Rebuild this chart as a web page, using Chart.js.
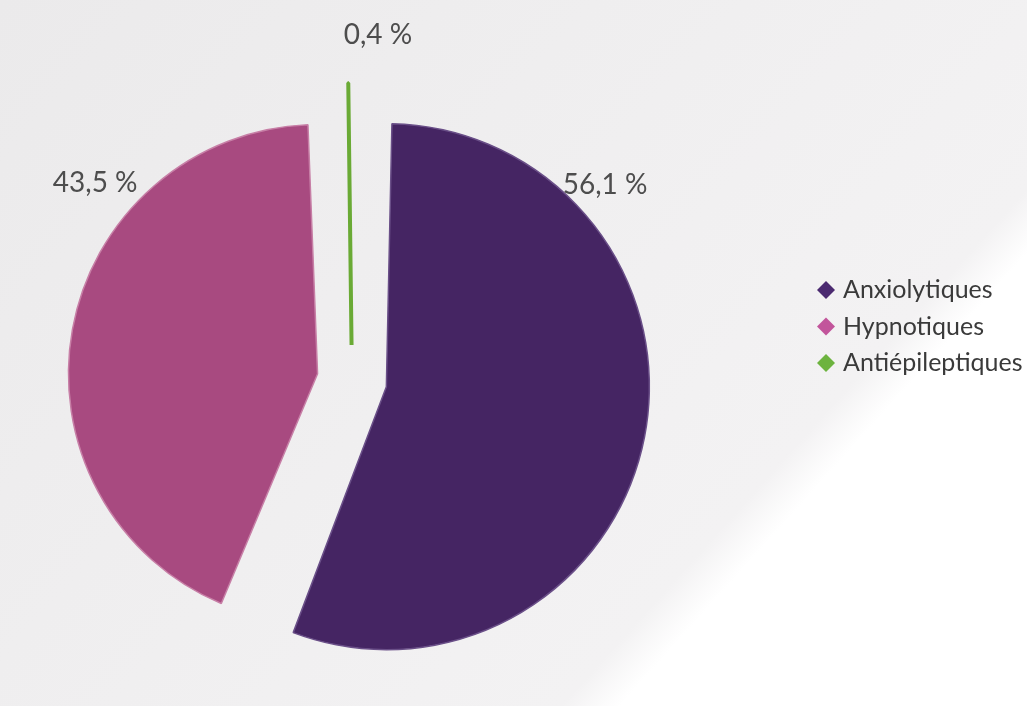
<!DOCTYPE html>
<html>
<head>
<meta charset="utf-8">
<script src="https://cdn.jsdelivr.net/npm/chart.js@4.4.0/dist/chart.umd.min.js"></script>
<style>
  html, body { margin: 0; padding: 0; width: 1027px; height: 706px; overflow: hidden; }
  body { background: linear-gradient(132deg, #ebeaeb 0%, #f3f2f3 72%, #ffffff 75.5%, #ffffff 100%); }
  #wrap { position: absolute; left: 0; top: 0; width: 1027px; height: 706px; }
</style>
</head>
<body>
<div id="wrap"><canvas id="c"></canvas></div>
<script>
const categories = ["Anxiolytiques", "Hypnotiques", "Antiépileptiques"];
const values = [56.1, 43.5, 0.4];
const valueLabels = ["56,1 %", "43,5 %", "0,4 %"];
const sliceColors = ["#452563", "#a84a80", "#6aaa35"];
const edgeColors = ["#6a4f88", "#c77fa6", "#6aaa35"];
const legendColors = ["#4b2a70", "#c2559b", "#6db33f"];

const labelPlugin = {
  id: 'outLabels',
  afterDatasetsDraw(chart, args, opts) {
    const ctx = chart.ctx;
    const meta = chart.getDatasetMeta(0);
    ctx.save();
    ctx.font = opts.font;
    ctx.fillStyle = opts.color;
    ctx.textAlign = 'center';
    ctx.textBaseline = 'middle';
    meta.data.forEach((arc, i) => {
      const p = arc.getProps(['x', 'y', 'outerRadius'], true);
      const a = (opts.angles[i] - 90) * Math.PI / 180;
      const r = p.outerRadius * opts.dist[i];
      ctx.fillText(valueLabels[i], p.x + Math.cos(a) * r, p.y + Math.sin(a) * r);
    });
    ctx.restore();
  }
};

const legendPlugin = {
  id: 'sideLegend',
  afterDraw(chart, args, opts) {
    const ctx = chart.ctx;
    ctx.save();
    ctx.font = opts.font;
    ctx.textBaseline = 'middle';
    ctx.textAlign = 'left';
    categories.forEach((c, i) => {
      const y = opts.y + i * opts.lineHeight;
      const s = opts.size / 2;
      ctx.fillStyle = legendColors[i];
      ctx.beginPath();
      ctx.moveTo(opts.x, y - s);
      ctx.lineTo(opts.x + s, y);
      ctx.lineTo(opts.x, y + s);
      ctx.lineTo(opts.x - s, y);
      ctx.closePath();
      ctx.fill();
      ctx.fillStyle = opts.color;
      ctx.fillText(c, opts.x + opts.gap, y);
    });
    ctx.restore();
  }
};

new Chart(document.getElementById('c'), {
  type: 'pie',
  data: {
    labels: categories,
    datasets: [{
      data: values,
      backgroundColor: sliceColors,
      borderColor: edgeColors,
      borderWidth: [1.5, 1.5, 4],
      offset: 140
    }]
  },
  options: {
    responsive: true,
    maintainAspectRatio: false,
    animation: false,
    radius: 228,
    layout: { padding: { left: 62, right: 385, top: 90, bottom: 36 } },
    plugins: {
      tooltip: { enabled: false },
      legend: { display: false },
      outLabels: {
        font: '28px Lato',
        color: '#4d4d4d',
        angles: [52.4, 307.5, 4.3],
        dist: [1.401, 1.42, 1.518]
      },
      sideLegend: {
        x: 826, y: 290, lineHeight: 36.5, size: 18, gap: 17,
        font: '25px Lato', color: '#3a3a3a'
      }
    }
  },
  plugins: [labelPlugin, legendPlugin]
});
</script>
</body>
</html>
